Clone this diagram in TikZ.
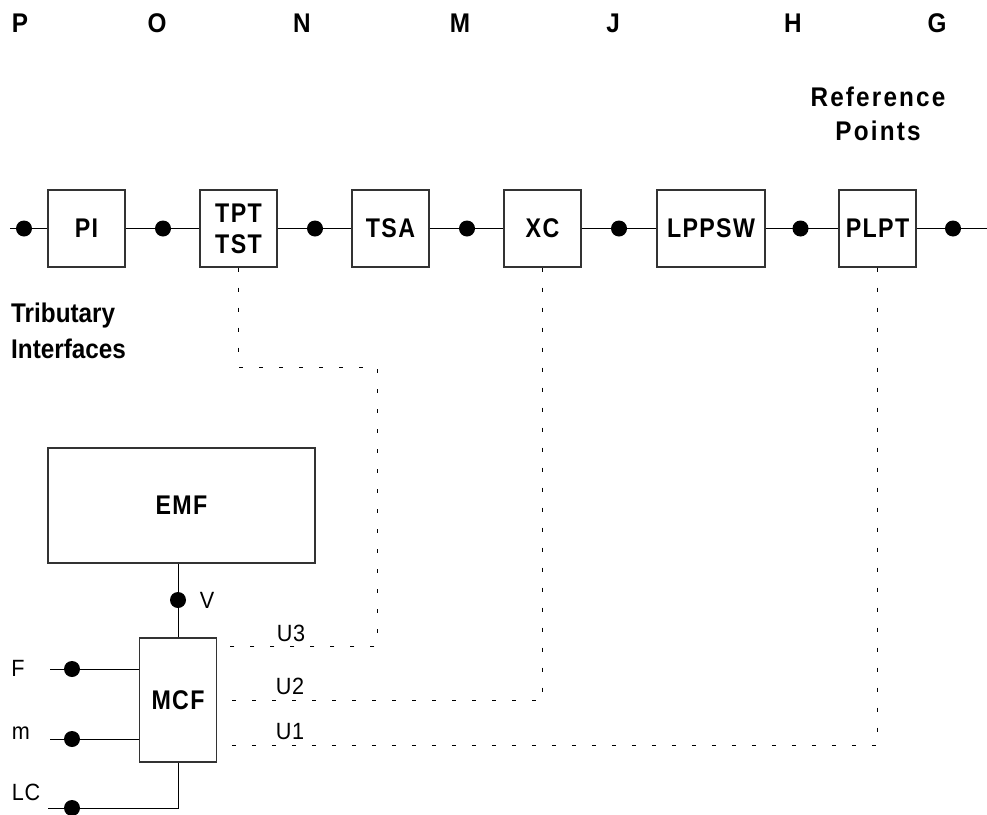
\documentclass[tikz,border=0pt]{standalone}
\usepackage{fontspec}
\setmainfont{Liberation Sans}
\newfontfamily\bfam[FakeStretch=0.9]{Liberation Sans}
\newfontfamily\spfont[FakeStretch=0.86,LetterSpace=5]{Liberation Sans}
\newfontfamily\wfont[FakeStretch=0.9,LetterSpace=8]{Liberation Sans}
\newfontfamily\rfam[FakeStretch=0.92,LetterSpace=3]{Liberation Sans}
\usetikzlibrary{calc}
\begin{document}
\begin{tikzpicture}[x=1pt,y=-1pt,
  blk/.style={draw=black!80, line width=1.2pt, fill=white, minimum width=77pt,
    minimum height=77pt, inner sep=0pt, align=center,
    font=\fontsize{27}{31}\selectfont\spfont\bfseries},
  dot/.style={circle, fill=black, inner sep=0pt, minimum size=16pt},
  ln/.style={line width=1pt},
  dl/.style={line width=1pt, dash pattern=on 4pt off 16pt},
  lab/.style={font=\fontsize{23.5}{26}\selectfont\rfam, inner sep=0pt},
  blab/.style={font=\fontsize{27}{30}\selectfont\bfam\bfseries, inner sep=0pt},
]
\useasboundingbox (0,0) rectangle (987,814);

% reference point letters
\node[blab] (lp) at (20,23) {P};
\node[blab] (lo) at (157,23) {O};
\node[blab] (ln) at (302,23) {N};
\node[blab] (lm) at (460,23) {M};
\node[blab] (lj) at (613,23) {J};
\node[blab] (lh) at (793,23) {H};
\node[blab] (lg) at (937,23) {G};

\node[blab, align=center, font=\fontsize{27}{34}\selectfont\wfont\bfseries] (refp) at (878,114) {Reference\\Points};
\node[blab, align=left, anchor=west, font=\fontsize{27}{36}\selectfont\bfam\bfseries] (trib) at (11,331) {Tributary\\Interfaces};

% main chain
\node[blk] (pi) at (86.5,228.5) {PI};
\node[blk] (tpt) at (238.5,228.5) {TPT\\TST};
\node[blk] (tsa) at (390.5,228.5) {TSA};
\node[blk] (xc) at (542.5,228.5) {XC};
\node[blk, minimum width=108pt] (lppsw) at (711,228.5) {LPPSW};
\node[blk] (plpt) at (877.5,228.5) {PLPT};

\coordinate (l0) at (10,228.5);
\coordinate (l1) at (987,228.5);
\draw[ln] (l0) -- (pi);
\draw[ln] (pi) -- (tpt);
\draw[ln] (tpt) -- (tsa);
\draw[ln] (tsa) -- (xc);
\draw[ln] (xc) -- (lppsw);
\draw[ln] (lppsw) -- (plpt);
\draw[ln] (plpt) -- (l1);

\node[dot] (d1) at (24,228.5) {};
\node[dot] (d2) at (163,228.5) {};
\node[dot] (d3) at (315,228.5) {};
\node[dot] (d4) at (467,228.5) {};
\node[dot] (d5) at (619,228.5) {};
\node[dot] (d6) at (800.5,228.5) {};
\node[dot] (d7) at (953,228.5) {};

% management
\node[blk, minimum width=267pt, minimum height=115pt] (emf) at (181.5,505.5) {EMF};
\node[blk, minimum height=124pt] (mcf) at (178,700) {MCF};

\draw[ln] (mcf.north) -- (mcf.north |- emf.south);
\node[dot] (dv) at (178,600) {};
\node[lab] (lv) at (207,600) {V};

\coordinate (fl) at (50,669);
\coordinate (ml) at (50,739);
\coordinate (lcl) at (48,808);
\draw[ln] (fl) -- (fl -| mcf.west);
\draw[ln] (ml) -- (ml -| mcf.west);
\draw[ln] (mcf.south) |- (lcl);
\node[dot] (df) at (72,669) {};
\node[dot] (dm) at (72,739) {};
\node[dot] (dlc) at (72,808) {};
\node[lab] (tf) at (18,668) {F};
\node[lab] (tm) at (21,733) {m};
\node[lab] (tlc) at (26,792) {LC};

% dotted management links
\coordinate (k3) at (377,367);
\coordinate (u3) at ($(mcf.north east)+(10,9)$);
\coordinate (u2) at ($(mcf.east)+(14,0.7)$);
\coordinate (u1) at ($(mcf.south east)+(13,-17)$);
\draw[dl] (tpt.south) |- (k3) |- (u3);
\draw[dl] (xc.south) |- (u2);
\draw[dl] (plpt.south) |- (u1);
\node[lab] (t3) at (291,633) {U3};
\node[lab] (t2) at (290,686) {U2};
\node[lab] (t1) at (290,731.5) {U1};
\end{tikzpicture}
\end{document}
